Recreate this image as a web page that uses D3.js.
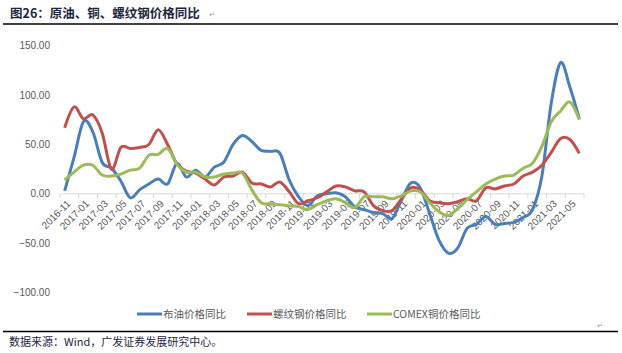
<!DOCTYPE html>
<html>
<head>
<meta charset="utf-8">
<script src="https://cdn.jsdelivr.net/npm/d3@7"></script>
<style>
  body { margin: 0; background: #fff; }
  svg { display: block; }
</style>
</head>
<body>
<script>
// monthly categories, 2016-11 .. 2021-06
const months = [
  '2016-11','2016-12',
  '2017-01','2017-02','2017-03','2017-04','2017-05','2017-06','2017-07','2017-08','2017-09','2017-10','2017-11','2017-12',
  '2018-01','2018-02','2018-03','2018-04','2018-05','2018-06','2018-07','2018-08','2018-09','2018-10','2018-11','2018-12',
  '2019-01','2019-02','2019-03','2019-04','2019-05','2019-06','2019-07','2019-08','2019-09','2019-10','2019-11','2019-12',
  '2020-01','2020-02','2020-03','2020-04','2020-05','2020-06','2020-07','2020-08','2020-09','2020-10','2020-11','2020-12',
  '2021-01','2021-02','2021-03','2021-04','2021-05','2021-06'
];

const brentYoY = [3, 37, 73, 63, 32, 26, 13, -4, 4, 10, 15, 10, 31, 17, 24, 17, 27, 32, 50, 59,
  53, 44, 43, 41, 14, -3, -12, -2, 0, 1, -3, -13, -16, -19, -20, -25, -6, 11, 6, -20,
  -47, -60, -55, -35, -31, -23, -31, -30, -29, -24, -16, 18, 92, 133, 108, 76];

const rebarYoY = [67, 88, 76, 80, 62, 25, 47, 46, 47, 50, 65, 50, 30, 23, 21, 15, 9, 17, 18, 22,
  11, 10, 7, 12, 2, -10, -7, -4, 2, 8, 7, 3, 2, -12, -17, -17, -5, 6, 4, -7,
  -9, -10, -8, -5, -7, 6, 5, 8, 10, 18, 22, 29, 42, 56, 55, 41];

const comexYoY = [14, 22, 29, 29, 19, 18, 20, 24, 26, 39, 40, 46, 30, 22, 22, 17, 17, 20, 21, 21,
  4, -9, -10, -11, -12, -13, -16, -11, -7, -5, -9, -14, -3, -3, -3, -5, -2, 3, 2, -9,
  -18, -22, -15, -6, 2, 10, 15, 18, 19, 26, 31, 48, 73, 84, 93, 75];

const seriesNames = ['布油价格同比', '螺纹钢价格同比', 'COMEX铜价格同比'];
const seriesColors = ['#4a7ebb', '#c0504d', '#9bbb59'];
const yTicks = [150, 100, 50, 0, -50, -100];

const outerWidth = 622;
const outerHeight = 353;

const svg = d3.select('body')
  .append('svg')
    .attr('width', outerWidth)
    .attr('height', outerHeight);

// title + rules
svg.append('text')
  .attr('x', 10)
  .attr('y', 18)
  .style('font-family', '"Noto Sans CJK SC", sans-serif')
  .style('font-size', '12.5px')
  .style('font-weight', 'bold')
  .style('fill', '#1c2540')
  .text('图26：原油、铜、螺纹钢价格同比');

svg.append('text')
  .attr('x', 209)
  .attr('y', 17)
  .style('font-family', 'DejaVu Sans, sans-serif')
  .style('font-size', '7px')
  .style('fill', '#999')
  .text('↵');

svg.append('line')
  .attr('x1', 3).attr('x2', 618)
  .attr('y1', 24).attr('y2', 24)
  .attr('stroke', '#000')
  .attr('stroke-width', 1.5);

svg.append('line')
  .attr('x1', 3).attr('x2', 618)
  .attr('y1', 331.5).attr('y2', 331.5)
  .attr('stroke', '#000')
  .attr('stroke-width', 1.5);

svg.append('text')
  .attr('x', 597)
  .attr('y', 328)
  .style('font-family', 'DejaVu Sans, sans-serif')
  .style('font-size', '7px')
  .style('fill', '#999')
  .text('↵');

svg.append('text')
  .attr('x', 9)
  .attr('y', 346)
  .style('font-family', '"Noto Sans CJK SC", sans-serif')
  .style('font-size', '11px')
  .style('fill', '#1c2540')
  .text('数据来源：Wind，广发证券发展研究中心。');

// scales
const xScale = d3.scaleBand()
  .domain(months)
  .range([60, 584]);

const xMid = m => xScale(m) + xScale.bandwidth() / 2;

const yScale = d3.scaleLinear()
  .domain([-100, 150])
  .range([292.5, 45.8]);

const g = svg.append('g');

// y labels (no axis line)
g.selectAll('.ylab')
  .data(yTicks)
  .join('text')
    .attr('class', 'ylab')
    .attr('x', 50)
    .attr('y', d => yScale(d))
    .attr('dy', '0.35em')
    .attr('text-anchor', 'end')
    .style('font-family', '"Liberation Sans", Arial, sans-serif')
    .style('font-size', '10px')
    .style('fill', '#595959')
    .text(d => d3.format('.2f')(d));

// x axis at zero
const y0 = yScale(0);
g.append('line')
  .attr('x1', 60).attr('x2', 584)
  .attr('y1', y0).attr('y2', y0)
  .attr('stroke', '#d9d9d9')
  .attr('stroke-width', 1);

const tickMonths = months.filter((d, i) => i % 2 === 0);
const tickXs = tickMonths.map(m => xScale(m)).concat([584]);

g.selectAll('.xtick')
  .data(tickXs)
  .join('line')
    .attr('class', 'xtick')
    .attr('x1', d => d).attr('x2', d => d)
    .attr('y1', y0).attr('y2', y0 + 5)
    .attr('stroke', '#d9d9d9');

g.selectAll('.xlab')
  .data(tickMonths)
  .join('text')
    .attr('class', 'xlab')
    .attr('transform', d => `translate(${xMid(d) + 4}, ${y0 + 8}) rotate(-45)`)
    .attr('dy', '0.35em')
    .attr('text-anchor', 'end')
    .style('font-family', '"Liberation Sans", Arial, sans-serif')
    .style('font-size', '10px')
    .style('fill', '#595959')
    .text(d => d);

// series
const allSeries = [brentYoY, rebarYoY, comexYoY];

const line = d3.line()
  .x((d, i) => xMid(months[i]))
  .y(d => yScale(d))
  .curve(d3.curveCardinal.tension(0));

g.selectAll('.series')
  .data(allSeries)
  .join('path')
    .attr('class', 'series')
    .attr('d', d => line(d))
    .attr('fill', 'none')
    .attr('stroke', (d, i) => seriesColors[i])
    .attr('stroke-width', 3)
    .attr('stroke-linejoin', 'round');

// legend
const legendX = [137, 247, 367];
const legendG = svg.append('g')
  .attr('transform', 'translate(0, 314)');

const legendItem = legendG.selectAll('g')
  .data(seriesNames)
  .join('g')
    .attr('transform', (d, i) => `translate(${legendX[i]}, 0)`);

legendItem.append('line')
  .attr('x1', 0).attr('x2', 25)
  .attr('stroke', (d, i) => seriesColors[i])
  .attr('stroke-width', 3);

legendItem.append('text')
  .attr('x', 26)
  .attr('dy', '0.35em')
  .style('font-family', '"Noto Sans CJK SC", sans-serif')
  .style('font-size', '10.5px')
  .style('fill', '#595959')
  .text(d => d);
</script>
</body>
</html>
